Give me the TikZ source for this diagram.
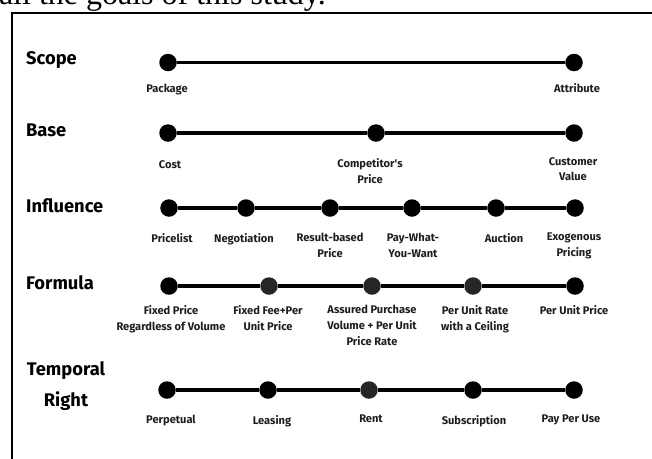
\documentclass[tikz,border=0pt]{standalone}
\usepackage{fontspec}
\setmainfont{Fira Sans}
\newfontfamily\serifhead{Liberation Serif}
\newfontfamily\labfont{Fira Sans}
\definecolor{labcol}{HTML}{1E1E1E}
\definecolor{dotgrey}{HTML}{262626}
\begin{document}
\begin{tikzpicture}[x=1pt,y=-1pt,
  dotnode/.style={circle,fill=black,inner sep=0pt,minimum size=17.5pt},
  greydot/.style={dotnode,fill=dotgrey},
  bar/.style={line width=3.6pt,black},
  rowtitle/.style={anchor=west,inner sep=0pt,font={\bfseries\fontsize{18.3}{22}\selectfont}},
  lab/.style={anchor=north,inner sep=0pt,align=center,text=labcol,font={\labfont\bfseries\fontsize{11.1}{15.8}\selectfont}}]
\useasboundingbox (0,0) rectangle (652,458);
\clip (0,0) rectangle (652,458);
% cropped caption text at the top
\node[anchor=base east,inner sep=0pt,font={\serifhead\fontsize{32}{36}\selectfont}] (cap) at (326,4) {all the goals of this study.};
% frame
\coordinate (fbl) at (12,470);
\coordinate (ftl) at (12,12.5);
\coordinate (ftr) at (670,12.5);
\draw[line width=2pt] (fbl) -- (ftl) -- (ftr);
% ---------- Scope
\node[rowtitle] (tscope) at (26,60) {Scope};
\node[dotnode] (s1) at (168,62.5) {};
\node[dotnode] (s2) at (574,62.5) {};
\draw[bar] (s1) -- (s2);
\node[lab] (ls1) at (167,83.5) {Package};
\node[lab] (ls2) at (577,83.5) {Attribute};
% ---------- Base
\node[rowtitle] (tbase) at (26,130) {Base};
\node[dotnode] (b1) at (168,133) {};
\node[dotnode] (b2) at (376,133) {};
\node[dotnode] (b3) at (574,133) {};
\draw[bar] (b1) -- (b2) -- (b3);
\node[lab] (lb1) at (170,160) {Cost};
\node[lab] (lb2) at (370,158) {Competitor's\\Price};
\node[lab] (lb3) at (573,157) {Customer\\Value};
% ---------- Influence
\node[rowtitle] (tinf) at (26,206) {Influence};
\node[dotnode] (i1) at (169,208) {};
\node[dotnode] (i2) at (246,208) {};
\node[dotnode] (i3) at (330,208) {};
\node[dotnode] (i4) at (412,208) {};
\node[dotnode] (i5) at (496,208) {};
\node[dotnode] (i6) at (575,208) {};
\draw[bar] (i1) -- (i2) -- (i3) -- (i4) -- (i5) -- (i6);
\node[lab] (li1) at (172,233) {Pricelist};
\node[lab] (li2) at (244,233) {Negotiation};
\node[lab] (li3) at (330,233) {Result-based\\Price};
\node[lab] (li4) at (413,233) {Pay-What-\\You-Want};
\node[lab] (li5) at (504,233) {Auction};
\node[lab] (li6) at (574,233) {Exogenous\\Pricing};
% ---------- Formula
\node[rowtitle] (tform) at (26,283) {Formula};
\node[dotnode] (f1) at (169,286) {};
\node[greydot] (f2) at (269,286) {};
\node[greydot] (f3) at (372,286) {};
\node[greydot] (f4) at (473,286) {};
\node[dotnode] (f5) at (575,286) {};
\draw[bar] (f1) -- (f2) -- (f3) -- (f4) -- (f5);
\node[lab] (lf1) at (171,305) {Fixed Price\\Regardless of Volume};
\node[lab] (lf2) at (268,305) {Fixed Fee+Per\\Unit Price};
\node[lab] (lf3) at (372,305) {Assured Purchase\\Volume + Per Unit\\Price Rate};
\node[lab] (lf4) at (475,305) {Per Unit Rate\\with a Ceiling};
\node[lab] (lf5) at (574,305) {Per Unit Price};
% ---------- Temporal Right
\node[anchor=center,inner sep=0pt,align=center,font={\bfseries\fontsize{18.3}{31}\selectfont}] (ttemp) at (66,386.5) {Temporal\\Right};
\node[dotnode] (t1) at (167,390) {};
\node[dotnode] (t2) at (268,390) {};
\node[greydot] (t3) at (369,390) {};
\node[dotnode] (t4) at (473,390) {};
\node[dotnode] (t5) at (574,390) {};
\draw[bar] (t1) -- (t2) -- (t3) -- (t4) -- (t5);
\node[lab] (lt1) at (171,415) {Perpetual};
\node[lab] (lt2) at (272,415) {Leasing};
\node[lab] (lt3) at (371,415) {Rent};
\node[lab] (lt4) at (474,415) {Subscription};
\node[lab] (lt5) at (571,415) {Pay Per Use};
\end{tikzpicture}
\end{document}
